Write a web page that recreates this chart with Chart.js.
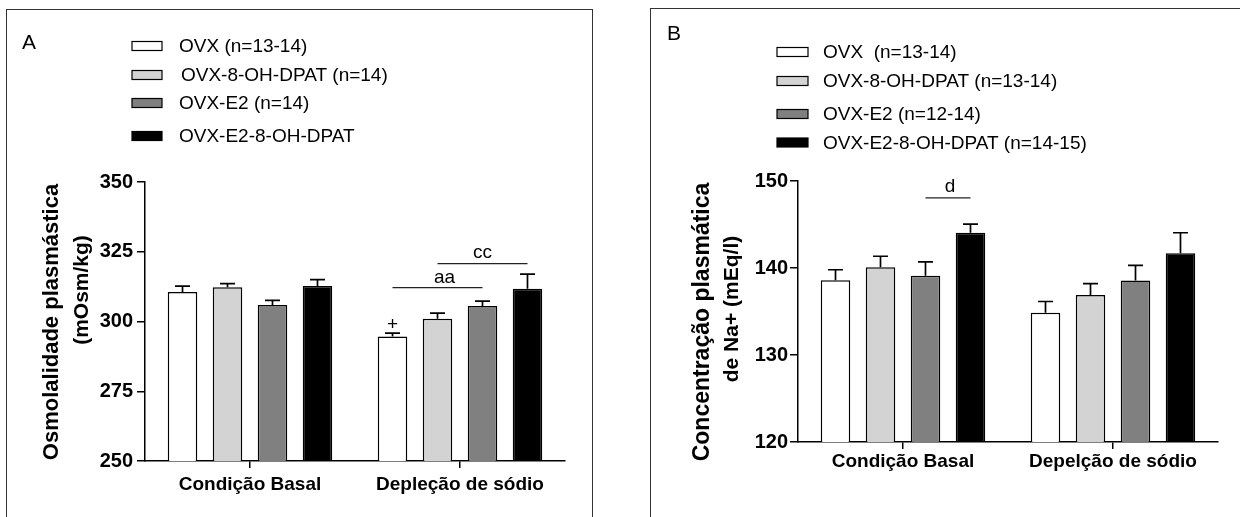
<!DOCTYPE html>
<html><head><meta charset="utf-8">
<script src="https://cdn.jsdelivr.net/npm/chart.js@4.4.1/dist/chart.umd.min.js"></script>
<style>
html,body{margin:0;padding:0;background:#fff;}
#wrap{position:relative;width:1240px;height:517px;overflow:hidden;background:#fff;}
.frame{position:absolute;border:1px solid #333;box-sizing:border-box;}
.cv{position:absolute;top:0;}
</style></head><body>
<div id="wrap">
  <div class="frame" style="left:6px;top:9px;width:587px;height:560px;"></div>
  <div class="frame" style="left:650px;top:8px;width:640px;height:560px;"></div>
  <canvas id="cA" class="cv" style="left:0px" width="620" height="517"></canvas>
  <canvas id="cB" class="cv" style="left:620px" width="620" height="517"></canvas>
</div>
<script>
// ---------- DATA ----------
const categoriesA = ['Condição Basal', 'Depleção de sódio'];
const categoriesB = ['Condição Basal', 'Depelção de sódio'];

const seriesLabelsA = ['OVX (n=13-14)', 'OVX-8-OH-DPAT (n=14)', 'OVX-E2 (n=14)', 'OVX-E2-8-OH-DPAT'];
const seriesLabelsB = ['OVX  (n=13-14)', 'OVX-8-OH-DPAT (n=13-14)', 'OVX-E2 (n=12-14)', 'OVX-E2-8-OH-DPAT (n=14-15)'];

// Panel A: osmolality (mOsm/kg), mean and SEM
const ovxA      = [310.6, 294.6];
const ovxSemA   = [2.1, 1.2];
const dpatA     = [312.3, 301.0];
const dpatSemA  = [1.3, 2.0];
const e2A       = [305.9, 305.6];
const e2SemA    = [1.7, 1.7];
const e2DpatA   = [312.7, 311.7];
const e2DpatSemA= [2.3, 5.3];

// Panel B: plasma Na+ (mEq/l), mean and SEM
const ovxB      = [138.6, 134.85];
const ovxSemB   = [1.2, 1.3];
const dpatB     = [140.1, 136.9];
const dpatSemB  = [1.25, 1.3];
const e2B       = [139.1, 138.55];
const e2SemB    = [1.6, 1.75];
const e2DpatB   = [144.05, 141.7];
const e2DpatSemB= [1.0, 2.35];

const yTicksA = [250, 275, 300, 325, 350];
const yTicksB = [120, 130, 140, 150];

// significance marks: category index, series span, y values (data units)
const sigA = [
  {label:'+',  cat:1, from:0, to:0, lineValue:null,   textValue:297.1, dx:0},
  {label:'aa', cat:1, from:0, to:2, lineValue:312.15, textValue:313.8, dx:7},
  {label:'cc', cat:1, from:1, to:3, lineValue:320.75, textValue:322.9, dx:0}
];
const sigB = [
  {label:'d',  cat:0, from:2, to:3, lineValue:148.05, textValue:148.73, dx:2}
];

// ---------- STYLE ----------
const FONT = '"Liberation Sans", Arial, Helvetica, sans-serif';
const fills = ['#ffffff', '#d3d3d3', '#808080', '#000000'];

// ---------- PLUGINS ----------
const errorBarPlugin = {
  id:'errorBars',
  afterDatasetsDraw(chart, args, opts){
    const ctx = chart.ctx, ys = chart.scales.y;
    chart.data.datasets.forEach((ds,i)=>{
      const meta = chart.getDatasetMeta(i);
      meta.data.forEach((bar,j)=>{
        const top = ys.getPixelForValue(ds.data[j] + ds.errors[j]);
        ctx.save();
        ctx.strokeStyle = '#000'; ctx.lineWidth = opts.lineWidth || 1.6;
        ctx.beginPath();
        ctx.moveTo(bar.x, bar.y); ctx.lineTo(bar.x, top);
        ctx.moveTo(bar.x - opts.cap/2, top); ctx.lineTo(bar.x + opts.cap/2, top);
        ctx.stroke();
        ctx.restore();
      });
    });
  }
};

const sigPlugin = {
  id:'sigMarks',
  afterDatasetsDraw(chart, args, opts){
    const ctx = chart.ctx, ys = chart.scales.y;
    (opts.items||[]).forEach(it=>{
      const x1 = chart.getDatasetMeta(it.from).data[it.cat].x;
      const x2 = chart.getDatasetMeta(it.to).data[it.cat].x;
      ctx.save();
      if (it.lineValue !== null){
        const yl = ys.getPixelForValue(it.lineValue);
        ctx.strokeStyle = '#222'; ctx.lineWidth = 1.3;
        ctx.beginPath(); ctx.moveTo(x1, yl); ctx.lineTo(x2, yl); ctx.stroke();
      }
      ctx.fillStyle = '#000';
      ctx.font = '19px ' + FONT;
      ctx.textAlign = 'center'; ctx.textBaseline = 'alphabetic';
      ctx.fillText(it.label, (x1+x2)/2 + it.dx, ys.getPixelForValue(it.textValue));
      ctx.restore();
    });
  }
};

const legendPlugin = {
  id:'sideLegend',
  afterDraw(chart, args, o){
    const ctx = chart.ctx;
    ctx.save();
    chart.data.datasets.forEach((ds,i)=>{
      const yc = o.rows[i];
      ctx.fillStyle = ds.backgroundColor;
      ctx.fillRect(o.x, yc - o.h/2, o.w, o.h);
      ctx.strokeStyle = '#000'; ctx.lineWidth = 1.2;
      ctx.strokeRect(o.x, yc - o.h/2, o.w, o.h);
      ctx.fillStyle = '#000';
      ctx.font = o.size + 'px ' + FONT;
      ctx.textAlign = 'left'; ctx.textBaseline = 'middle';
      ctx.fillText(ds.label, o.textX[i], yc + 1);
    });
    // panel letter
    ctx.font = o.letterSize + 'px ' + FONT;
    ctx.textAlign = 'center'; ctx.textBaseline = 'middle';
    ctx.fillText(o.letter, o.letterX, o.letterY);
    ctx.restore();
  }
};

const yTitlePlugin = {
  id:'yTitle',
  afterDraw(chart, args, o){
    const ctx = chart.ctx;
    ctx.save();
    ctx.fillStyle = '#000';
    o.lines.forEach(l=>{
      ctx.save();
      ctx.translate(l.x, l.y);
      ctx.rotate(-Math.PI/2);
      ctx.font = 'bold ' + l.size + 'px ' + FONT;
      ctx.textAlign = 'center'; ctx.textBaseline = 'middle';
      ctx.fillText(l.text, 0, 0);
      ctx.restore();
    });
    ctx.restore();
  }
};

function ds(label, data, errs, i){
  return {label, data, errors:errs, backgroundColor:fills[i], borderColor:'#000', borderWidth:1.5,
          borderSkipped:false, categoryPercentage:0.857, barPercentage:0.656};
}

function axisOpts(p){
  return {
    x:{
      offset:true,
      grid:{display:true, drawOnChartArea:false, drawTicks:true, tickLength:7, color:'#000', lineWidth:1.5, offset:false},
      border:{display:true, color:'#000', width:1.5},
      ticks:{font:{family:FONT, size:19, weight:'bold'}, color:'#000', padding:p.xPad, maxRotation:0, autoSkip:false},
      afterFit(s){ s.height = 40; }
    },
    y:{
      min:p.min, max:p.max,
      afterBuildTicks(s){ s.ticks = p.ticks.map(v=>({value:v})); },
      grid:{display:true, drawOnChartArea:false, drawTicks:true, tickLength:8, color:'#000', lineWidth:1.5},
      border:{display:true, color:'#000', width:1.5},
      ticks:{font:{family:FONT, size:20, weight:'bold'}, color:'#000', padding:p.yPad},
      afterFit(s){ s.width = 60; }
    }
  };
}

// ---------- CHART A ----------
new Chart(document.getElementById('cA'), {
  type:'bar',
  data:{
    labels:categoriesA,
    datasets:[
      ds(seriesLabelsA[0], ovxA, ovxSemA, 0),
      ds(seriesLabelsA[1], dpatA, dpatSemA, 1),
      ds(seriesLabelsA[2], e2A, e2SemA, 2),
      ds(seriesLabelsA[3], e2DpatA, e2DpatSemA, 3)
    ]
  },
  options:{
    responsive:false, animation:false, devicePixelRatio:1,
    layout:{padding:{left:85, right:55, top:182, bottom:16}},
    scales:axisOpts({min:250, max:350, ticks:yTicksA, xPad:5, yPad:4}),
    plugins:{
      legend:{display:false}, tooltip:{enabled:false},
      errorBars:{cap:15, lineWidth:1.7},
      sigMarks:{items:sigA},
      sideLegend:{x:132, w:30, h:9, rows:[46, 75, 103, 136], textX:[179, 181, 179, 179], size:19,
                  letter:'A', letterX:29, letterY:43, letterSize:21},
      yTitle:{lines:[
        {text:'Osmolalidade plasmástica', x:52, y:322, size:22},
        {text:'(mOsm/kg)', x:82, y:290, size:21}
      ]}
    }
  },
  plugins:[errorBarPlugin, sigPlugin, legendPlugin, yTitlePlugin]
});

// ---------- CHART B ----------
new Chart(document.getElementById('cB'), {
  type:'bar',
  data:{
    labels:categoriesB,
    datasets:[
      ds(seriesLabelsB[0], ovxB, ovxSemB, 0),
      ds(seriesLabelsB[1], dpatB, dpatSemB, 1),
      ds(seriesLabelsB[2], e2B, e2SemB, 2),
      ds(seriesLabelsB[3], e2DpatB, e2DpatSemB, 3)
    ]
  },
  options:{
    responsive:false, animation:false, devicePixelRatio:1,
    layout:{padding:{left:118, right:22, top:181, bottom:35}},
    scales:axisOpts({min:120, max:150, ticks:yTicksB, xPad:1, yPad:2}),
    plugins:{
      legend:{display:false}, tooltip:{enabled:false},
      errorBars:{cap:15, lineWidth:1.7},
      sigMarks:{items:sigB},
      sideLegend:{x:157, w:31, h:9, rows:[52, 81, 114, 142.5], textX:[203, 203, 203, 203], size:19,
                  letter:'B', letterX:54, letterY:34, letterSize:21},
      yTitle:{lines:[
        {text:'Concentração plasmática', x:83, y:322, size:23},
        {text:'de Na+ (mEq/l)', x:112, y:309, size:21}
      ]}
    }
  },
  plugins:[errorBarPlugin, sigPlugin, legendPlugin, yTitlePlugin]
});
</script>
</body></html>
